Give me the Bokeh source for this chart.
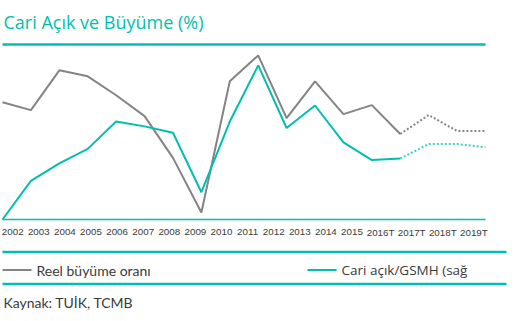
from bokeh.plotting import figure
from bokeh.models import Range1d, ColumnDataSource
from bokeh.core.properties import value
from bokeh.embed import file_html
from bokeh.resources import INLINE

# ---- data ----
years = ["2002", "2003", "2004", "2005", "2006", "2007", "2008", "2009", "2010",
         "2011", "2012", "2013", "2014", "2015", "2016T", "2017T", "2018T", "2019T"]
growth = [6.4, 5.6, 9.6, 9.0, 7.1, 5.0, 0.8, -4.7, 8.5, 11.1, 4.8, 8.5, 5.2, 6.1, 3.2, 5.1, 3.5, 3.5]
cad_gdp = [0.1, 2.5, 3.6, 4.5, 6.2, 5.9, 5.5, 1.8, 6.2, 9.7, 5.8, 7.2, 4.9, 3.8, 3.9, 4.8, 4.8, 4.6]
n_actual = 15  # 2002..2016 solid, then forecast dotted

title_text = "Cari Açık ve Büyüme (%)"
legend_growth = "Reel büyüme oranı"
legend_cad = "Cari açık/GSMH (sağ"
source_text = "Kaynak: TUİK, TCMB"

left_lim = (-5.4, 12.2)
right_lim = (0.1, 11.0)

# ---- layout (pixels) ----
W, H = 530, 321
L, R, T, B = 2, 485, 44, 219
TEAL = "#00bfae"
TEAL_LIGHT = "#3ccfc1"
GRAY = "#848484"
DARK = "#3a3a3a"

n = len(years)
span_x = n - 1
xs = list(range(n))


def full_range(lo, hi, a, b, before, after):
    k = (hi - lo) / (b - a)
    return lo - before * k, hi + after * k


x0, x1 = full_range(0, span_x, L, R, L, W - R)
y0, y1 = full_range(left_lim[0], left_lim[1], T, B, H - B, T)
r0, r1 = full_range(right_lim[0], right_lim[1], T, B, H - B, T)

p = figure(width=W, height=H, x_range=Range1d(x0, x1), y_range=Range1d(y0, y1),
           output_backend="svg", toolbar_location=None, min_border=0,
           x_axis_location=None, y_axis_location=None, title=None)
p.outline_line_color = None
p.xgrid.visible = False
p.ygrid.visible = False
p.background_fill_color = "white"
p.border_fill_color = "white"
p.extra_y_ranges = {"right": Range1d(r0, r1), "px": Range1d(H, 0)}
p.extra_x_ranges = {"px": Range1d(0, W)}

# ---- frame lines ----
p.segment(x0=[L], y0=[T], x1=[R], y1=[T], x_range_name="px", y_range_name="px",
          line_color=TEAL, line_width=2.5)
p.segment(x0=[L], y0=[B], x1=[R], y1=[B], x_range_name="px", y_range_name="px",
          line_color=TEAL, line_width=1.5)
p.segment(x0=[L, L], y0=[251.5, 283.5], x1=[506, 506], y1=[251.5, 283.5],
          x_range_name="px", y_range_name="px", line_color=TEAL, line_width=2.5)

# ---- series ----
p.line(xs[:n_actual], growth[:n_actual], line_color=GRAY, line_width=2)
p.line(xs[n_actual - 1:], growth[n_actual - 1:], line_color=GRAY, line_width=2,
       line_dash="2 2")
p.line(xs[:n_actual], cad_gdp[:n_actual], line_color=TEAL, line_width=2,
       y_range_name="right")
p.line(xs[n_actual - 1:], cad_gdp[n_actual - 1:], line_color=TEAL_LIGHT, line_width=2,
       line_dash="2 2", y_range_name="right")

# ---- tick labels (packed like the original text run) ----
gap = 6.6
widths = [24.5 if y.endswith("T") else 19.5 for y in years]
lab_x = [12.2]
for i in range(1, n):
    lab_x.append(lab_x[-1] + (widths[i - 1] + widths[i]) / 2 + gap)
lab_src = ColumnDataSource(dict(x=lab_x, y=[231.5] * n, t=years))
p.text(x="x", y="y", text="t", source=lab_src, x_range_name="px", y_range_name="px",
       text_font=value("Liberation Sans"), text_font_size="9.8px",
       text_color=DARK, text_align="center", text_baseline="middle")

# ---- title ----
p.text(x=[3], y=[21], text=[title_text], x_range_name="px", y_range_name="px",
       text_font=value("Open Sans"), text_font_size="18px", text_color=TEAL,
       text_align="left", text_baseline="alphabetic")

# ---- legend ----
p.segment(x0=[2], y0=[269.5], x1=[31], y1=[269.5], x_range_name="px", y_range_name="px",
          line_color=GRAY, line_width=2)
p.text(x=[36], y=[269.5], text=[legend_growth], x_range_name="px", y_range_name="px",
       text_font=value("Lato"), text_font_size="14px", text_color=DARK,
       text_align="left", text_baseline="middle")
p.segment(x0=[307], y0=[269.5], x1=[336], y1=[269.5], x_range_name="px", y_range_name="px",
          line_color=TEAL, line_width=2)
p.text(x=[341], y=[269.5], text=[legend_cad], x_range_name="px", y_range_name="px",
       text_font=value("Open Sans"), text_font_size="13.5px", text_color=DARK,
       text_align="left", text_baseline="middle")

# ---- source ----
p.text(x=[3], y=[301.5], text=[source_text], x_range_name="px", y_range_name="px",
       text_font=value("Lato"), text_font_size="14px", text_color=DARK,
       text_align="left", text_baseline="alphabetic")

open("out.html", "w").write(file_html(p, INLINE))
